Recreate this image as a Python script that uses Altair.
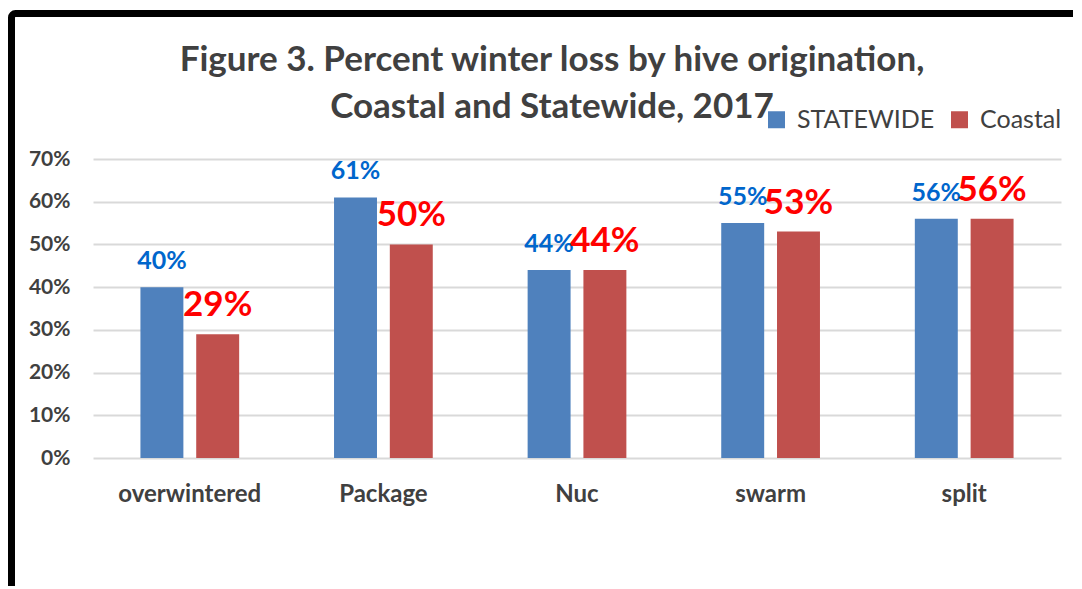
import altair as alt
import pandas as pd

categories = ["overwintered", "Package", "Nuc", "swarm", "split"]
statewide = [0.40, 0.61, 0.44, 0.55, 0.56]
coastal = [0.29, 0.50, 0.44, 0.53, 0.56]
series = ["STATEWIDE", "Coastal"]
bar_colors = ["#4F81BD", "#C0504D"]
y_ticks = [0.0, 0.1, 0.2, 0.3, 0.4, 0.5, 0.6, 0.7]
title_lines = ["Figure 3. Percent winter loss by hive origination,", "Coastal and Statewide, 2017"]

rows = []
for c, s, k in zip(categories, statewide, coastal):
    rows.append({"cat": c, "series": series[0], "value": s})
    rows.append({"cat": c, "series": series[1], "value": k})
df = pd.DataFrame(rows)

FONT = "Lato"
GRAY = "#404040"

x = alt.X("cat:N", sort=categories, title=None,
          scale=alt.Scale(paddingInner=0.49, paddingOuter=0.245),
          axis=alt.Axis(labelAngle=0, labelFont=FONT, labelFontSize=24, labelFontWeight="bold",
                        labelColor=GRAY, labelPadding=24, domain=False, ticks=False, grid=False))
xo = alt.XOffset("series:N", sort=series, scale=alt.Scale(paddingInner=0.23, paddingOuter=0))
y = alt.Y("value:Q", title=None, scale=alt.Scale(domain=[0, 0.7]),
          axis=alt.Axis(format=".0%", values=y_ticks, labelFont=FONT, labelFontSize=21,
                        labelFontWeight="bold", labelColor=GRAY, labelPadding=23,
                        domain=False, ticks=False, gridColor="#D9D9D9", gridWidth=2))

base = alt.Chart(df)

bars = base.mark_bar().encode(
    x=x, xOffset=xo, y=y,
    color=alt.Color("series:N", sort=series,
                    scale=alt.Scale(domain=series, range=bar_colors),
                    legend=alt.Legend(title=None, orient="none", legendX=671, legendY=-52,
                                      direction="horizontal", symbolType="square",
                                      symbolSize=289, symbolStrokeWidth=0,
                                      labelFont=FONT, labelFontSize=25, labelColor=GRAY,
                                      labelOffset=8, columnPadding=12)),
)

txt_state = base.transform_filter(alt.datum.series == series[0]).mark_text(
    font=FONT, fontWeight="bold", fontSize=25, color="#0066CC", dy=-18, baseline="alphabetic"
).encode(x=x, xOffset=xo, y=y, text=alt.Text("value:Q", format=".0%"))

txt_coast = base.transform_filter(alt.datum.series == series[1]).mark_text(
    font=FONT, fontWeight="bold", fontSize=35, color="#FF0000", dy=-18, baseline="alphabetic"
).encode(x=x, xOffset=xo, y=y, text=alt.Text("value:Q", format=".0%"))

frame = alt.Chart(pd.DataFrame({"f": [0]})).mark_rect(
    fill=None, stroke="black", strokeWidth=7, cornerRadius=4
).encode(x=alt.value(-81.5), x2=alt.value(1100), y=alt.value(-145.5), y2=alt.value(600))

chart = alt.layer(frame, bars, txt_state, txt_coast).properties(
    width=968, height=299,
    autosize=alt.AutoSizeParams(type="none"),
    padding={"left": 85, "top": 151, "right": 12, "bottom": 128},
    title=alt.TitleParams(text=title_lines, font=FONT, fontSize=35, fontWeight="bold",
                          color=GRAY, anchor="middle", dx=-25, lineHeight=47, offset=-115),
).configure_view(stroke=None)

chart.save("out.html", embed_options={"renderer": "svg", "actions": False})
